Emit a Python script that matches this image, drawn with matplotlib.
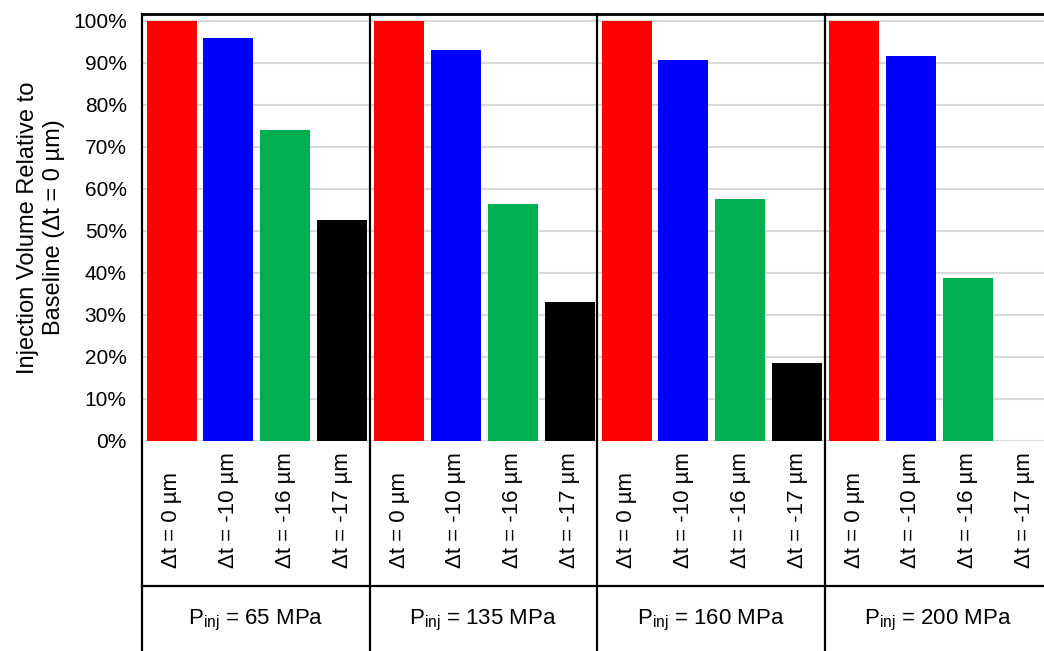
import numpy as np
import matplotlib.pyplot as plt
import matplotlib.transforms as mtransforms

plt.rcParams['font.family'] = ['Liberation Sans', 'DejaVu Sans']
plt.rcParams['mathtext.fontset'] = 'custom'
plt.rcParams['mathtext.rm'] = 'Liberation Sans'

# Injection volume relative to baseline, one list per injection pressure
pressures = ['65', '135', '160', '200']
offsets = ['Δt = 0 µm', 'Δt = -10 µm', 'Δt = -16 µm', 'Δt = -17 µm']
vol_65 = [1.00, 0.960, 0.739, 0.527]
vol_135 = [1.00, 0.931, 0.563, 0.330]
vol_160 = [1.00, 0.907, 0.577, 0.185]
vol_200 = [1.00, 0.917, 0.387, 0.0]
colors = ['#FF0000', '#0000FF', '#00B050', '#000000']

groups = [vol_65, vol_135, vol_160, vol_200]
W, H = 1044, 651

fig = plt.figure(figsize=(W / 100, H / 100), dpi=100)
# axes runs a bit past the right edge of the figure
ax = fig.add_axes([142 / W, (H - 441) / H, (1052 - 142) / W, (441 - 14) / H])

x = np.arange(16) + 0.02
heights = [v for g in groups for v in g]
bar_colors = colors * 4
ax.bar(x, heights, width=0.88, color=bar_colors, zorder=2)

ax.set_xlim(-0.5, 15.5)
ax.set_ylim(0, 1.016)
ax.set_yticks(np.arange(0, 1.01, 0.1))
ax.set_yticklabels([f'{int(round(v * 100))}%' for v in np.arange(0, 1.01, 0.1)], fontsize=15)
ax.yaxis.grid(True, color='#d9d9d9', linewidth=1.5, zorder=0)
ax.set_axisbelow(True)
ax.tick_params(axis='y', length=0, pad=11)
ax.set_xticks([])

for s in ['right', 'bottom', 'left']:
    ax.spines[s].set_visible(False)
ax.spines['top'].set_linewidth(2)

ax.set_ylabel('Injection Volume Relative to\nBaseline (Δt = 0 µm)', fontsize=17, labelpad=6)

trans = mtransforms.blended_transform_factory(ax.transData, ax.transAxes)

# category labels, vertical, all starting from the same baseline
y_cat = -(568 - 441) / (441 - 14)
for xi, lab in zip(x, offsets * 4):
    ax.text(xi, y_cat, lab, transform=trans, rotation=90, ha='center', va='bottom', fontsize=16)

# frame lines between groups, reaching down through the label area
y_bottom = -(H - 441) / (441 - 14) - 0.01
for xb in [-0.5, 3.5, 7.5, 11.5, 15.5]:
    ax.plot([xb, xb], [1, y_bottom], color='black', lw=1.6, transform=trans, clip_on=False)
y_sep = -(586 - 441) / (441 - 14)
ax.plot([-0.5, 15.5], [y_sep, y_sep], color='black', lw=1.6, transform=trans, clip_on=False)

# pressure labels under each group
y_grp = -(620 - 441) / (441 - 14)
for i, p in enumerate(pressures):
    ax.text(4 * i + 1.5, y_grp, r'P$_{\mathregular{inj}}$ = ' + p + ' MPa', transform=trans,
            ha='center', va='center', fontsize=16)

fig.savefig('out.png', dpi=100)
